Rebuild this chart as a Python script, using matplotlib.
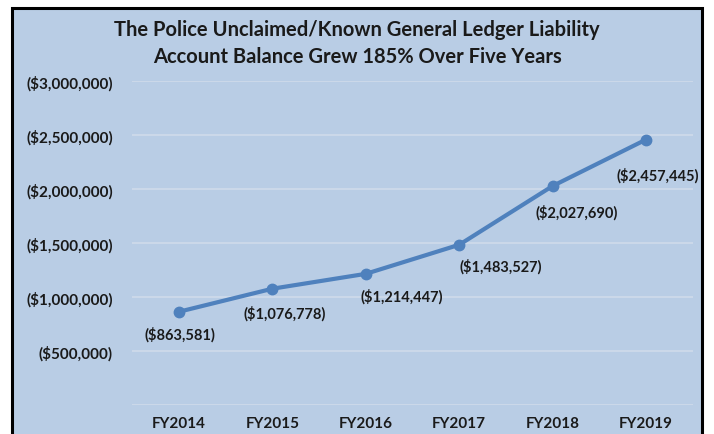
import matplotlib.pyplot as plt
from matplotlib.patches import Rectangle
from matplotlib.ticker import FuncFormatter

# chart data
years = ["FY2014", "FY2015", "FY2016", "FY2017", "FY2018", "FY2019"]
balances = [863581, 1076778, 1214447, 1483527, 2027690, 2457445]
y_ticks = [0, 500000, 1000000, 1500000, 2000000, 2500000, 3000000]

# hand placed label offsets (pixels), like the original
label_offsets = [(1, -22), (12, -24), (36, -22), (42, -21), (24, -26), (12, -35)]

BG = "#B9CDE5"
LINE = "#4F81BD"
GRID = "#CFDBEB"
TEXT = "#1a1a1a"
FONT = ["Lato", "DejaVu Sans"]

plt.rcParams["font.family"] = FONT


def money(v, pos=None):
    if v == 0:
        return ""
    return f"(${v:,.0f})"


fig = plt.figure(figsize=(7.14, 4.35), dpi=100)
fig.patch.set_facecolor("white")

# chart frame
frame = Rectangle((12 / 714, -0.05), 690 / 714, 1.05 - 9 / 435,
                  transform=fig.transFigure, facecolor=BG,
                  edgecolor="black", linewidth=2.2, zorder=-1)
fig.patches.append(frame)

ax = fig.add_axes([132.3 / 714, 29 / 435, 560.4 / 714, 324 / 435])
ax.set_facecolor("none")
ax.set_zorder(2)

x = list(range(len(years)))
ax.plot(x, balances, color=LINE, linewidth=3, marker="o", markersize=7.5,
        solid_capstyle="round", zorder=3)

for xi, v, (dx, dy) in zip(x, balances, label_offsets):
    ax.annotate(money(v), (xi, v), xytext=(dx, dy), textcoords="offset pixels",
                ha="center", va="center", fontsize=10.5, fontweight="bold",
                color=TEXT)

ax.set_xlim(-0.5, len(years) - 0.5)
ax.set_ylim(0, 3000000)
ax.set_xticks(x)
ax.set_xticklabels(years)
ax.set_yticks(y_ticks)
ax.yaxis.set_major_formatter(FuncFormatter(money))
ax.grid(axis="y", color=GRID, linewidth=1.2)
ax.set_axisbelow(True)
ax.tick_params(axis="both", length=0, labelsize=11, labelcolor=TEXT)
ax.tick_params(axis="y", pad=14)
ax.tick_params(axis="x", pad=8)
for lab in ax.get_xticklabels() + ax.get_yticklabels():
    lab.set_fontweight("bold")
for s in ax.spines.values():
    s.set_visible(False)

fig.text(0.5, 1 - 30 / 435, "The Police Unclaimed/Known General Ledger Liability",
         ha="center", va="center", fontsize=14.5, fontweight="bold", color=TEXT)
fig.text(0.5, 1 - 57 / 435, "Account Balance Grew 185% Over Five Years",
         ha="center", va="center", fontsize=14.5, fontweight="bold", color=TEXT)

fig.savefig("out.png", dpi=100)
